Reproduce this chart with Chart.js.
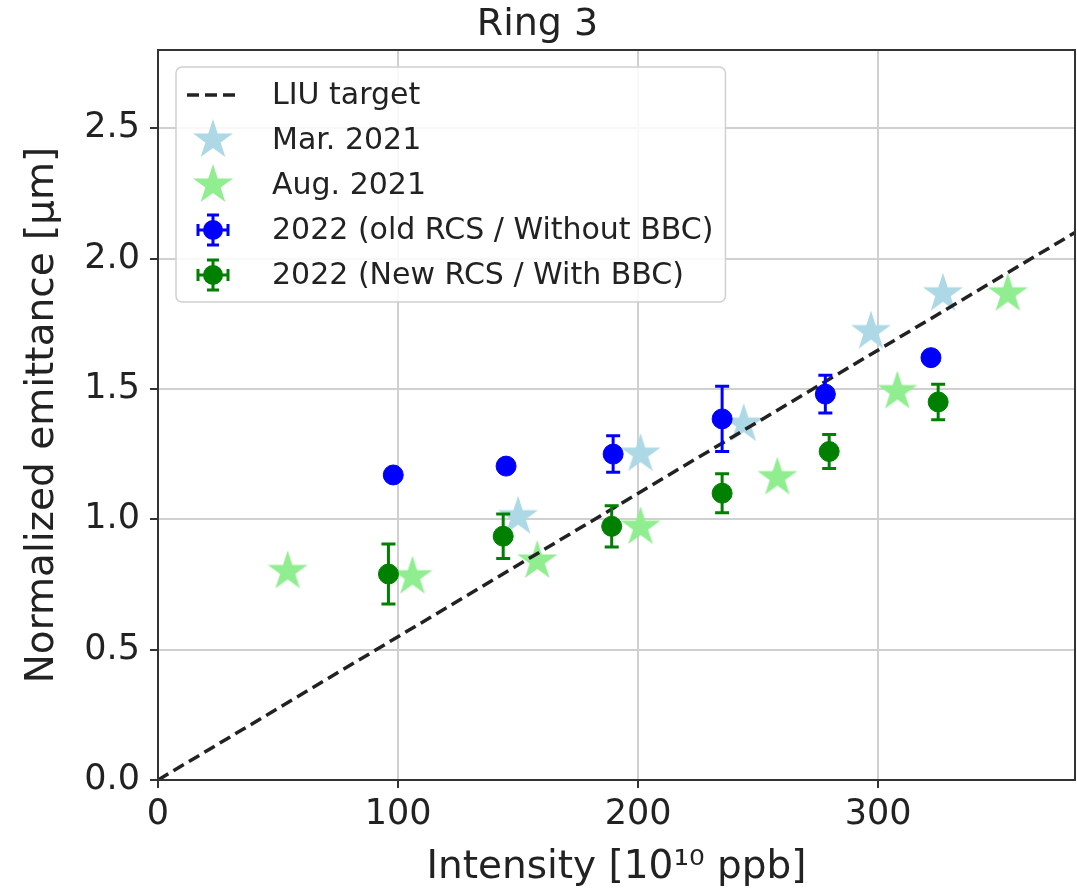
<!DOCTYPE html>
<html>
<head>
<meta charset="utf-8">
<script src="https://cdn.jsdelivr.net/npm/chart.js@4.4.1/dist/chart.umd.min.js"></script>
<style>
html,body{margin:0;padding:0;background:#fff}
#wrap{width:1077px;height:891px}
</style>
</head>
<body>
<div id="wrap"><canvas id="ringChart" width="1077" height="891"></canvas></div>
<script>
// values
let liuX=[0,382]
let liuY=[0,2.1]

let marX=[150,201,244,297,327]
let marY=[1.01,1.25,1.365,1.72,1.865]

let augX=[54,106,158,201,258,308,354]
let augY=[0.80,0.78,0.84,0.97,1.16,1.49,1.865]

let oldX=[98,145,189.6,235,278,322]
let oldY=[1.17,1.204,1.25,1.385,1.48,1.62]
let oldErr=[0.02,0.02,0.07,0.125,0.072,0.02]

let newX=[96,143.8,189,235,279.6,325]
let newY=[0.79,0.935,0.973,1.10,1.26,1.45]
let newErr=[0.115,0.085,0.079,0.075,0.065,0.068]

let xTicks=[0,100,200,300]
let yTicks=[0,0.5,1,1.5,2,2.5]

let font="DejaVu Sans"
let txt="#222"

function pts(xs,ys){
return xs.map((x,i)=>({x:x,y:ys[i]}))
}

function makeStar(color,r){
let c=document.createElement("canvas")
c.width=2*r+2
c.height=2*r+2
let g=c.getContext("2d")
g.fillStyle=color
g.beginPath()
for(let i=0;i<10;i++){
let rad=i%2?r*0.382:r
let a=-Math.PI/2+i*Math.PI/5
let px=r+1+rad*Math.cos(a)
let py=r+1+rad*Math.sin(a)
if(i===0) g.moveTo(px,py)
else g.lineTo(px,py)
}
g.closePath()
g.fill()
return c
}

let starBlue=makeStar("#add8e6",21)
let starGreen=makeStar("#90ee90",21)

function drawBar(ctx,x,yTop,yBot,cap){
ctx.beginPath()
ctx.moveTo(x,yTop)
ctx.lineTo(x,yBot)
ctx.moveTo(x-cap,yTop)
ctx.lineTo(x+cap,yTop)
ctx.moveTo(x-cap,yBot)
ctx.lineTo(x+cap,yBot)
ctx.stroke()
}

// vertical error bars, drawn under the circles
let errorBars={
id:"errorBars",
beforeDatasetDraw(chart,args){
let ds=chart.data.datasets[args.index]
if(!ds.errors) return
let ctx=chart.ctx
let xs=chart.scales.x
let ys=chart.scales.y
ctx.save()
ctx.strokeStyle=ds.backgroundColor
ctx.lineWidth=3
ds.data.forEach((p,i)=>{
let e=ds.errors[i]
drawBar(ctx,xs.getPixelForValue(p.x),ys.getPixelForValue(p.y+e),ys.getPixelForValue(p.y-e),7)
})
ctx.restore()
}
}

// frame on all four sides + legend inside the plot
let frameLegend={
id:"frameLegend",
afterDraw(chart){
let ctx=chart.ctx
let a=chart.chartArea
ctx.save()
ctx.strokeStyle="#333"
ctx.lineWidth=2
ctx.strokeRect(a.left,a.top,a.right-a.left,a.bottom-a.top)

let items=[
{label:"LIU target",kind:"line"},
{label:"Mar. 2021",kind:"star",img:starBlue},
{label:"Aug. 2021",kind:"star",img:starGreen},
{label:"2022 (old RCS / Without BBC)",kind:"err",color:"#0000ff"},
{label:"2022 (New RCS / With BBC)",kind:"err",color:"#008000"}
]
ctx.font="30px "+font
let maxW=0
items.forEach(it=>{maxW=Math.max(maxW,ctx.measureText(it.label).width)})
let bx=a.left+18
let by=a.top+17
let textX=bx+96
let bw=textX+maxW+12-bx
let bh=235
ctx.fillStyle="rgba(255,255,255,0.85)"
ctx.strokeStyle="#d0d0d0"
ctx.lineWidth=1.5
ctx.beginPath()
ctx.roundRect(bx,by,bw,bh,6)
ctx.fill()
ctx.stroke()

let mx=bx+37
items.forEach((it,i)=>{
let cy=by+28+i*45
if(it.kind==="line"){
ctx.strokeStyle="#222"
ctx.lineWidth=3.5
ctx.setLineDash([12,6])
ctx.beginPath()
ctx.moveTo(bx+11,cy)
ctx.lineTo(bx+64,cy)
ctx.stroke()
ctx.setLineDash([])
}
else if(it.kind==="star"){
ctx.drawImage(it.img,mx-it.img.width/2,cy-it.img.height/2)
}
else{
ctx.strokeStyle=it.color
ctx.lineWidth=3
drawBar(ctx,mx,cy-15,cy+15,6)
ctx.beginPath()
ctx.moveTo(mx-15,cy-6)
ctx.lineTo(mx-15,cy+6)
ctx.moveTo(mx+15,cy-6)
ctx.lineTo(mx+15,cy+6)
ctx.moveTo(mx-15,cy)
ctx.lineTo(mx+15,cy)
ctx.stroke()
ctx.fillStyle=it.color
ctx.beginPath()
ctx.arc(mx,cy,10,0,Math.PI*2)
ctx.fill()
}
ctx.fillStyle=txt
ctx.textBaseline="middle"
ctx.textAlign="left"
ctx.fillText(it.label,textX,cy+1)
})
ctx.restore()
}
}

let chart=new Chart(document.getElementById("ringChart"),{
type:"scatter",
data:{
datasets:[
{
label:"Mar. 2021",
data:pts(marX,marY),
pointStyle:starBlue,
pointRadius:20,
backgroundColor:"#add8e6",
order:5
},
{
label:"Aug. 2021",
data:pts(augX,augY),
pointStyle:starGreen,
pointRadius:20,
backgroundColor:"#90ee90",
order:4
},
{
label:"LIU target",
data:pts(liuX,liuY),
showLine:true,
borderColor:"#222",
borderWidth:3.5,
borderDash:[12,6],
pointRadius:0,
order:3
},
{
label:"2022 (old RCS / Without BBC)",
data:pts(oldX,oldY),
errors:oldErr,
pointRadius:10,
borderWidth:1,
borderColor:"#0000ff",
backgroundColor:"#0000ff",
order:2
},
{
label:"2022 (New RCS / With BBC)",
data:pts(newX,newY),
errors:newErr,
pointRadius:10,
borderWidth:1,
borderColor:"#008000",
backgroundColor:"#008000",
order:1
}
]
},
options:{
responsive:false,
animation:false,
events:[],
layout:{autoPadding:false,padding:{left:0,right:2,top:0,bottom:0}},
plugins:{
legend:{display:false},
tooltip:{enabled:false},
title:{
display:true,
text:"Ring 3",
color:txt,
font:{family:font,size:38,weight:"normal",lineHeight:1.2},
padding:{top:2,bottom:2.4}
}
},
scales:{
x:{
type:"linear",
min:0,
max:382,
afterFit(s){s.height=111;s.paddingLeft=0;s.paddingRight=0},
afterBuildTicks(s){s.ticks=xTicks.map(v=>({value:v}))},
ticks:{color:txt,font:{family:font,size:35},padding:6,callback:v=>String(v)},
grid:{color:"#d0d0d0",lineWidth:2,tickColor:"#333",tickWidth:2,tickLength:8},
border:{display:false},
title:{display:true,text:"Intensity [10¹⁰ ppb]",color:txt,font:{family:font,size:39,lineHeight:1.2},padding:{top:0,bottom:0}}
},
y:{
type:"linear",
min:0,
max:2.8,
afterFit(s){s.width=158;s.paddingTop=0;s.paddingBottom=0},
afterBuildTicks(s){s.ticks=yTicks.map(v=>({value:v}))},
ticks:{color:txt,font:{family:font,size:35},padding:10,callback:v=>v.toFixed(1)},
grid:{color:"#d0d0d0",lineWidth:2,tickColor:"#333",tickWidth:2,tickLength:8},
border:{display:false},
title:{display:true,text:"Normalized emittance [μm]",color:txt,font:{family:font,size:39,lineHeight:1.2},padding:{top:19,bottom:0}}
}
}
},
plugins:[errorBars,frameLegend]
})
</script>
</body>
</html>
